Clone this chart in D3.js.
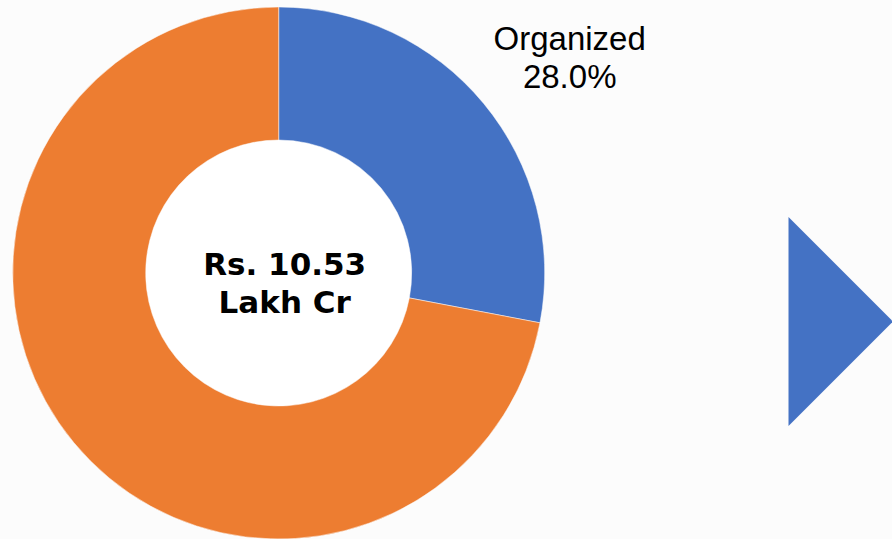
<!DOCTYPE html>
<html>
<head>
<meta charset="utf-8">
<script src="https://cdn.jsdelivr.net/npm/d3@7"></script>
<style>
  body { margin: 0; background: #fcfcfc; }
  svg { display: block; }
</style>
</head>
<body>
<div id="chartDiv"></div>
<script>
// market split data
var categories = ['Organized', 'Unorganized'];
var shares = [28.0, 72.0];
var colors = ['#4472C4', '#ED7D31'];
var centerLines = ['Rs. 10.53', 'Lakh Cr'];
var shownLabels = ['Organized'];

function drawDonut() {
  var width = 892;
  var height = 539;
  var cx = 278.7, cy = 273;
  var outerR = 266, innerR = 133;

  var svg = d3.select('#chartDiv').append('svg')
    .attr('width', width).attr('height', height);

  svg.append('rect').attr('width', width).attr('height', height).attr('fill', '#fcfcfc');

  var data = categories.map(function(c, i) {
    return { name: c, value: shares[i], color: colors[i] };
  });

  var pie = d3.pie().sort(null).value(function(d) { return d.value; });
  var arc = d3.arc().innerRadius(innerR).outerRadius(outerR);

  var g = svg.append('g').attr('transform', 'translate(' + cx + ',' + cy + ')');

  // white hole in the middle
  g.append('circle').attr('r', innerR).attr('fill', '#ffffff');

  g.selectAll('path')
    .data(pie(data))
    .enter()
    .append('path')
    .attr('d', arc)
    .attr('fill', function(d) { return d.data.color; })
    .attr('stroke', '#fcfcfc')
    .attr('stroke-width', 0.5);

  // outside label for the organized slice
  var labelArc = d3.arc().innerRadius(outerR + 60).outerRadius(outerR + 60);
  pie(data).forEach(function(d) {
    if (shownLabels.indexOf(d.data.name) < 0) return;
    var t = g.append('text')
      .attr('text-anchor', 'middle')
      .attr('font-family', 'Liberation Sans, Arial, sans-serif')
      .attr('font-size', 33)
      .attr('fill', '#000');
    t.append('tspan').attr('x', 291).attr('y', -223).text(d.data.name);
    t.append('tspan').attr('x', 291).attr('y', -185).text(d.data.value.toFixed(1) + '%');
  });

  // total in the centre
  var ct = g.append('text')
    .attr('text-anchor', 'middle')
    .attr('font-family', 'DejaVu Sans, Verdana, sans-serif')
    .attr('font-weight', 'bold')
    .attr('font-size', 31)
    .attr('fill', '#000');
  centerLines.forEach(function(line, i) {
    ct.append('tspan').attr('x', 6).attr('y', 2 + i * 38).text(line);
  });

  // arrow on the right
  svg.append('path')
    .attr('d', d3.line()([[788.5, 217], [893, 321.5], [788.5, 426]]) + 'Z')
    .attr('fill', '#4472C4');
}

drawDonut();
</script>
</body>
</html>
